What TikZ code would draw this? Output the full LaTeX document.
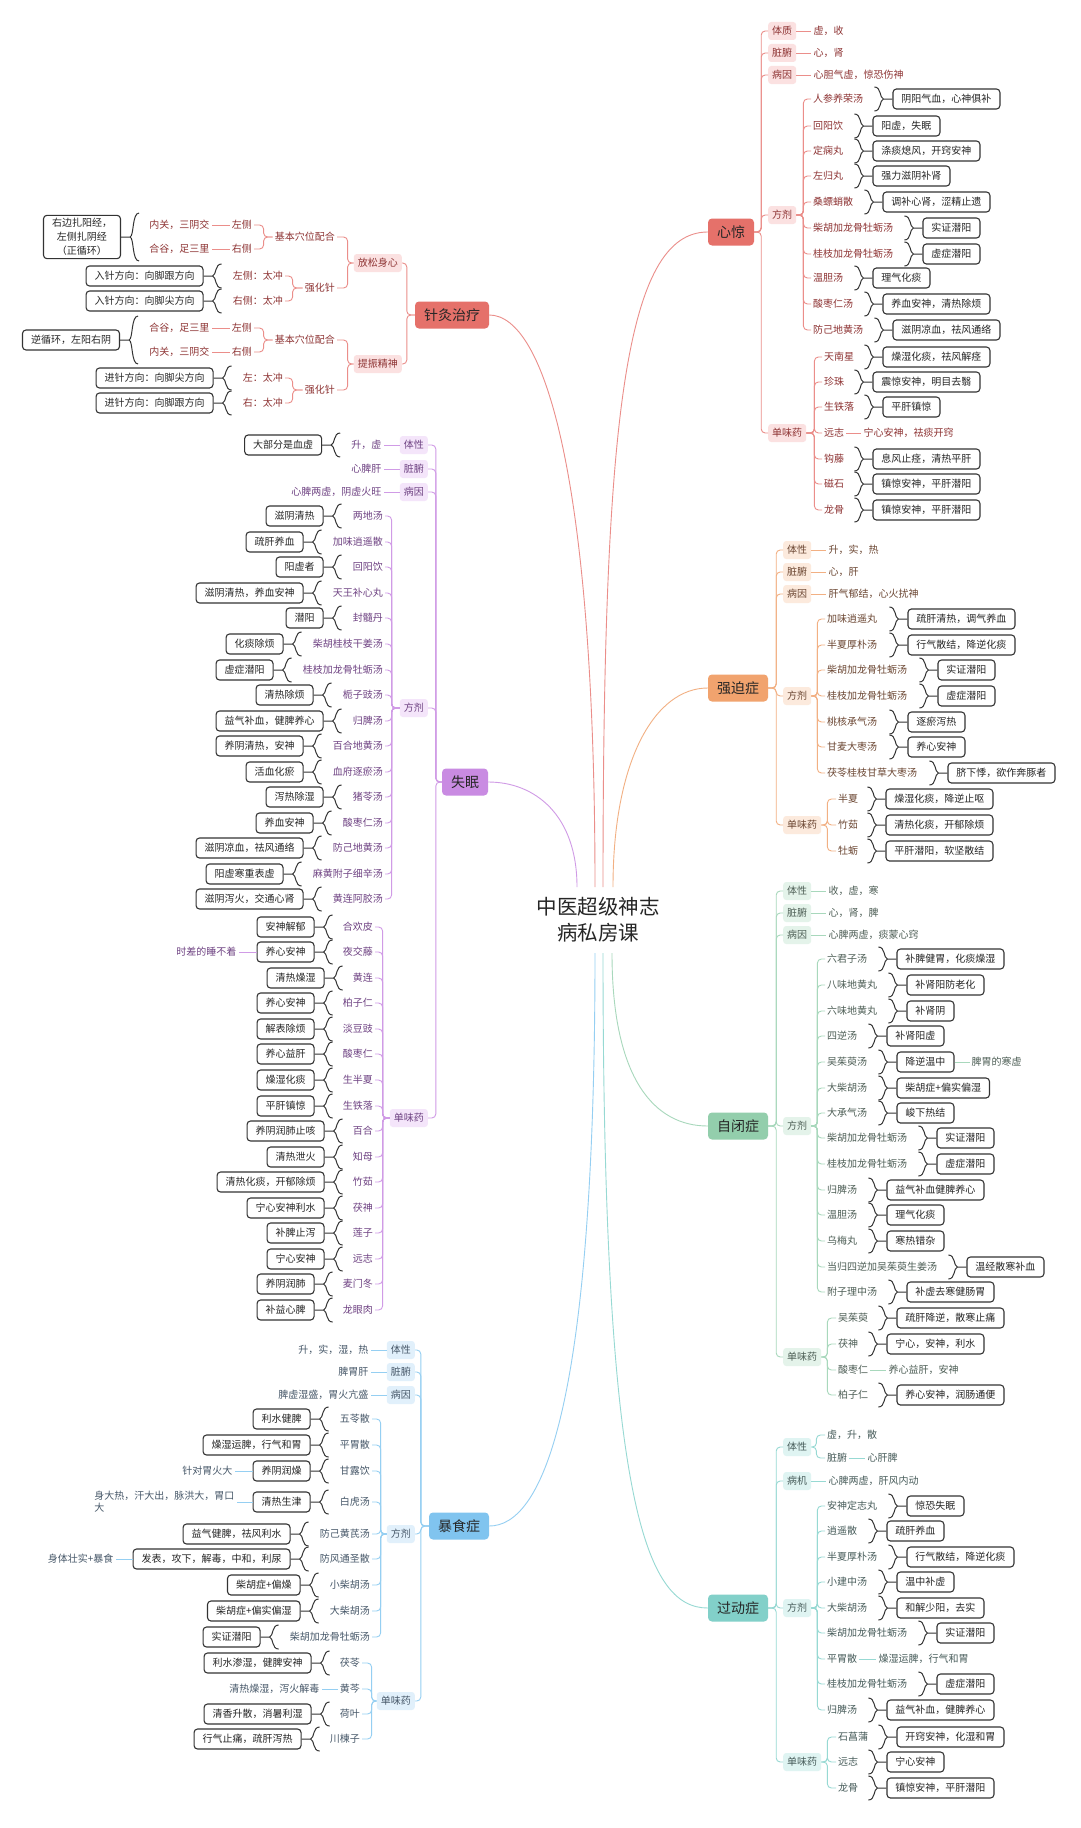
\documentclass[tikz,border=0pt]{standalone}
\usepackage{fontspec}
\setmainfont{Noto Sans CJK SC}
\usepackage{tikz}
\usetikzlibrary{positioning, calc}

\definecolor{cRedFill}{HTML}{E5716A}
\definecolor{cRedCat}{HTML}{FBE1E1}
\definecolor{cRedText}{HTML}{8E3434}
\definecolor{cRedLine}{HTML}{EB8E8A}
\definecolor{cPuFill}{HTML}{C98BE2}
\definecolor{cPuCat}{HTML}{F4E5FA}
\definecolor{cPuText}{HTML}{6F4383}
\definecolor{cPuLine}{HTML}{D09BE6}
\definecolor{cOrFill}{HTML}{F1A36E}
\definecolor{cOrCat}{HTML}{FCEADD}
\definecolor{cOrText}{HTML}{6B4632}
\definecolor{cOrLine}{HTML}{F2B083}
\definecolor{cGrFill}{HTML}{93CEAC}
\definecolor{cGrCat}{HTML}{E4F3EA}
\definecolor{cGrText}{HTML}{4D5E55}
\definecolor{cGrLine}{HTML}{A8D8BC}
\definecolor{cTlFill}{HTML}{82D0C9}
\definecolor{cTlCat}{HTML}{DFF4F2}
\definecolor{cTlText}{HTML}{475C5A}
\definecolor{cTlLine}{HTML}{97D9D3}
\definecolor{cBlFill}{HTML}{80C4EF}
\definecolor{cBlCat}{HTML}{E1F0FB}
\definecolor{cBlText}{HTML}{475869}
\definecolor{cBlLine}{HTML}{95CFF2}

\tikzset{
  lf/.style={inner sep=2pt, font=\fontsize{10}{12}\selectfont},
  cat/.style={rounded corners=3pt, minimum height=18pt, inner xsep=4pt, inner ysep=1pt, font=\fontsize{10}{12}\selectfont},
  bx/.style={draw=black!80, line width=1.1pt, rounded corners=3.5pt, fill=white, minimum height=20pt, inner xsep=8.5pt, inner ysep=1pt, font=\fontsize{10}{12}\selectfont, text=black!85},
  topic/.style={rounded corners=4pt, minimum height=27pt, inner xsep=9pt, font=\fontsize{14}{16}\selectfont, text=black!85},
  brc/.style={draw=black!80, line width=1pt},
  rbr/.style={to path={($(\tikztotarget.west)+(-9,0)$) -- (\tikztotarget.west)
      ($(\tikztotarget.west)+(-9,0)$) .. controls +(-4,1) and +(7,0) .. ($(\tikztotarget.west)+(-18,#1)$)
      ($(\tikztotarget.west)+(-9,0)$) .. controls +(-4,-1) and +(7,0) .. ($(\tikztotarget.west)+(-18,-#1)$)}},
  rbr/.default=12,
  lbr/.style={to path={($(\tikztotarget.east)+(9,0)$) -- (\tikztotarget.east)
      ($(\tikztotarget.east)+(9,0)$) .. controls +(4,1) and +(-7,0) .. ($(\tikztotarget.east)+(18,#1)$)
      ($(\tikztotarget.east)+(9,0)$) .. controls +(4,-1) and +(-7,0) .. ($(\tikztotarget.east)+(18,-#1)$)}},
  lbr/.default=12,
  redln/.style={draw=cRedLine, line width=0.9pt, rounded corners=4pt},
  redlf/.style={lf, text=cRedText},
  redcat/.style={cat, fill=cRedCat, text=cRedText},
  puln/.style={draw=cPuLine, line width=0.9pt, rounded corners=4pt},
  pulf/.style={lf, text=cPuText},
  pucat/.style={cat, fill=cPuCat, text=cPuText},
  orln/.style={draw=cOrLine, line width=0.9pt, rounded corners=4pt},
  orlf/.style={lf, text=cOrText},
  orcat/.style={cat, fill=cOrCat, text=cOrText},
  grln/.style={draw=cGrLine, line width=0.9pt, rounded corners=4pt},
  grlf/.style={lf, text=cGrText},
  grcat/.style={cat, fill=cGrCat, text=cGrText},
  tlln/.style={draw=cTlLine, line width=0.9pt, rounded corners=4pt},
  tllf/.style={lf, text=cTlText},
  tlcat/.style={cat, fill=cTlCat, text=cTlText},
  blln/.style={draw=cBlLine, line width=0.9pt, rounded corners=4pt},
  bllf/.style={lf, text=cBlText},
  blcat/.style={cat, fill=cBlCat, text=cBlText},
}

\begin{document}
\begin{tikzpicture}[x=1pt, y=-1pt]
\fill[white] (0,0) rectangle (1080,1828);
\useasboundingbox (0,0) rectangle (1080,1828);

% title
\node[font=\fontsize{20.5}{26}\selectfont, align=center, text=black!85] (tt) at (598,920) {中医超级神志\\病私房课};
\coordinate (ttA) at (577,887);
\coordinate (ttB) at (595,887);
\coordinate (ttC) at (603,887);
\coordinate (ttD) at (613,887);
\coordinate (ttE) at (595,953);
\coordinate (ttF) at (603,953);
\coordinate (ttG) at (612,953);

% ---- 心惊 ----
\node[topic, fill=cRedFill] (xj) at (731,232) {心惊};
\foreach \n/\y/\t in {a/31/体质, b/53/脏腑, c/75/病因, d/215/方剂, e/433/单味药}{
  \node[redcat, anchor=west] (xj\n) at (768,\y) {\t};
  \draw[redln] (xj.east) -- ++(7,0) |- (xj\n.west);
}
\foreach \n/\t in {a/虚，收, b/心，肾, c/心胆气虚，惊恐伤神}{
  \node[redlf, right=15pt of xj\n] (xj\n1) {\t};
  \draw[redln] (xj\n) -- (xj\n1);
}
\foreach \y/\t/\b [count=\i] in {99/人参养荣汤/阴阳气血，心神俱补, 126/回阳饮/阳虚，失眠,
    151/定痫丸/涤痰熄风，开窍安神, 176/左归丸/强力滋阴补肾, 202/桑螵蛸散/调补心肾，涩精止遗,
    228/柴胡加龙骨牡蛎汤/实证潜阳, 254/桂枝加龙骨牡蛎汤/虚症潜阳, 278/温胆汤/理气化痰,
    304/酸枣仁汤/养血安神，清热除烦, 330/防己地黄汤/滋阴凉血，祛风通络}{
  \node[redlf, anchor=west] (xjd\i) at (811,\y) {\t};
  \node[bx, right=27pt of xjd\i] (xjdb\i) {\b};
  \draw[redln] (xjd.east) -- ++(7,0) |- (xjd\i.west);
  \draw[brc] (xjd\i) to[rbr] (xjdb\i);
}
\foreach \n/\y/\t/\b in {1/357/天南星/燥湿化痰，祛风解痉, 2/382/珍珠/震惊安神，明目去翳,
    3/407/生铁落/平肝镇惊, 5/459/钩藤/息风止痉，清热平肝, 6/484/磁石/镇惊安神，平肝潜阳,
    7/510/龙骨/镇惊安神，平肝潜阳}{
  \node[redlf, anchor=west] (xje\n) at (822,\y) {\t};
  \node[bx, right=26pt of xje\n] (xjeb\n) {\b};
  \draw[redln] (xje.east) -- ++(8,0) |- (xje\n.west);
  \draw[brc] (xje\n) to[rbr] (xjeb\n);
}
\node[redlf, anchor=west] (xje4) at (822,433) {远志};
\node[redlf, right=15pt of xje4] (xje4t) {宁心安神，祛痰开窍};
\draw[redln] (xje.east) -- ++(8,0) |- (xje4.west);
\draw[redln] (xje4) -- (xje4t);
\draw[redln] (ttC) .. controls (603,420) and (625,232) .. (xj.west);

% ---- 针灸治疗 ----
\node[topic, fill=cRedFill] (zj) at (452,315) {针灸治疗};
\foreach \n/\y/\t in {a/263/放松身心, b/364/提振精神}{
  \node[redcat, anchor=east] (zj\n) at (402,\y) {\t};
  \draw[redln] (zj.west) -- ++(-8,0) |- (zj\n.east);
}
\foreach \p/\n/\y/\t in {a/a1/237/基本穴位配合, a/a2/288/强化针, b/b1/340/基本穴位配合, b/b2/390/强化针}{
  \node[redlf, anchor=east] (zj\n) at (337,\y) {\t};
  \draw[redln] (zj\p.west) -- ++(-6,0) |- (zj\n.east);
}
\foreach \p/\n/\y/\s/\t in {a1/a11/225/左侧/内关，三阴交, a1/a12/249/右侧/合谷，足三里,
    b1/b11/328/左侧/合谷，足三里, b1/b12/352/右侧/内关，三阴交}{
  \node[redlf, anchor=east] (zj\n) at (254,\y) {\s};
  \node[redlf, left=18pt of zj\n] (zj\n-t) {\t};
  \draw[redln] (zj\p.west) -- ++(-9,0) |- (zj\n.east);
  \draw[redln] (zj\n) -- (zj\n-t);
}
\node[bx, align=center, font=\fontsize{10}{14}\selectfont, inner ysep=3pt] (zja1x) at (82,237) {右边扎阳经，\\左侧扎阴经\\（正循环）};
\node[bx] (zjb1x) at (71,340) {逆循环，左阳右阴};
\draw[brc] (zja11-t) to[lbr=24] (zja1x);
\draw[brc] (zjb11-t) to[lbr=24] (zjb1x);
\foreach \p/\n/\y/\s/\b in {a2/a21/276/左侧：太冲/入针方向：向脚跟方向, a2/a22/301/右侧：太冲/入针方向：向脚尖方向,
    b2/b21/378/左：太冲/进针方向：向脚尖方向, b2/b22/403/右：太冲/进针方向：向脚跟方向}{
  \node[redlf, anchor=east] (zj\n) at (285,\y) {\s};
  \node[bx, left=27pt of zj\n] (zj\n-b) {\b};
  \draw[redln] (zj\p.west) -- ++(-10,0) |- (zj\n.east);
  \draw[brc] (zj\n) to[lbr] (zj\n-b);
}
\draw[redln] (ttB) .. controls (595,480) and (545,315) .. (zj.east);

% ---- 失眠 ----
\node[topic, fill=cPuFill] (sm) at (465,782) {失眠};
\foreach \n/\y/\t in {a/445/体性, b/469/脏腑, c/492/病因, d/708/方剂, e/1118/单味药}{
  \node[pucat, anchor=east] (sm\n) at (428,\y) {\t};
  \draw[puln] (sm.west) -- ++(-6,0) |- (sm\n.east);
}
\foreach \n/\t in {a/升，虚, b/心脾肝, c/心脾两虚，阴虚火旺}{
  \node[pulf, left=16pt of sm\n] (sm\n1) {\t};
  \draw[puln] (sm\n) -- (sm\n1);
}
\node[bx, left=27pt of sma1] (sma2) {大部分是血虚};
\draw[brc] (sma1) to[lbr] (sma2);
\foreach \y/\t/\b [count=\i] in {516/两地汤/滋阴清热, 542/加味逍遥散/疏肝养血, 567/回阳饮/阳虚者,
    593/天王补心丸/滋阴清热，养血安神, 618/封髓丹/潜阳, 644/柴胡桂枝干姜汤/化痰除烦,
    670/桂枝加龙骨牡蛎汤/虚症潜阳, 695/栀子豉汤/清热除烦, 721/归脾汤/益气补血，健脾养心,
    746/百合地黄汤/养阴清热，安神, 772/血府逐瘀汤/活血化瘀, 797/猪苓汤/泻热除湿,
    823/酸枣仁汤/养血安神, 848/防己地黄汤/滋阴凉血，祛风通络, 874/麻黄附子细辛汤/阳虚寒重表虚,
    899/黄连阿胶汤/滋阴泻火，交通心肾}{
  \node[pulf, anchor=east] (smd\i) at (385,\y) {\t};
  \node[bx, left=27pt of smd\i] (smdb\i) {\b};
  \draw[puln] (smd.west) -- ++(-8,0) |- (smd\i.east);
  \draw[brc] (smd\i) to[lbr] (smdb\i);
}
\foreach \y/\t/\b [count=\i] in {927/合欢皮/安神解郁, 952/夜交藤/养心安神, 978/黄连/清热燥湿,
    1003/柏子仁/养心安神, 1029/淡豆豉/解表除烦, 1054/酸枣仁/养心益肝, 1080/生半夏/燥湿化痰,
    1106/生铁落/平肝镇惊, 1131/百合/养阴润肺止咳, 1157/知母/清热泄火, 1182/竹茹/清热化痰，开郁除烦,
    1208/茯神/宁心安神利水, 1233/莲子/补脾止泻, 1259/远志/宁心安神, 1284/麦门冬/养阴润肺,
    1310/龙眼肉/补益心脾}{
  \node[pulf, anchor=east] (sme\i) at (375,\y) {\t};
  \node[bx, left=26pt of sme\i] (smeb\i) {\b};
  \draw[puln] (sme.west) -- ++(-7,0) |- (sme\i.east);
  \draw[brc] (sme\i) to[lbr] (smeb\i);
}
\node[pulf, left=18pt of smeb2] (smen) {时差的睡不着};
\draw[puln] (smeb2) -- (smen);
\draw[puln] (ttA) .. controls (577,815) and (535,782) .. (sm.east);

% ---- 强迫症 ----
\node[topic, fill=cOrFill] (qp) at (738,688) {强迫症};
\foreach \n/\y/\t in {a/550/体性, b/572/脏腑, c/594/病因, d/696/方剂, e/825/单味药}{
  \node[orcat, anchor=west] (qp\n) at (783,\y) {\t};
  \draw[orln] (qp.east) -- ++(8,0) |- (qp\n.west);
}
\foreach \n/\t in {a/升，实，热, b/心，肝, c/肝气郁结，心火扰神}{
  \node[orlf, right=15pt of qp\n] (qp\n1) {\t};
  \draw[orln] (qp\n) -- (qp\n1);
}
\foreach \y/\t/\b [count=\i] in {619/加味逍遥丸/疏肝清热，调气养血, 645/半夏厚朴汤/行气散结，降逆化痰,
    670/柴胡加龙骨牡蛎汤/实证潜阳, 696/桂枝加龙骨牡蛎汤/虚症潜阳, 722/桃核承气汤/逐瘀泻热,
    747/甘麦大枣汤/养心安神, 773/茯苓桂枝甘草大枣汤/脐下悸，欲作奔豚者}{
  \node[orlf, anchor=west] (qpd\i) at (825,\y) {\t};
  \node[bx, right=28pt of qpd\i] (qpdb\i) {\b};
  \draw[orln] (qpd.east) -- ++(6,0) |- (qpd\i.west);
  \draw[brc] (qpd\i) to[rbr] (qpdb\i);
}
\foreach \y/\t/\b [count=\i] in {799/半夏/燥湿化痰，降逆止呕, 825/竹茹/清热化痰，开郁除烦, 851/牡蛎/平肝潜阳，软坚散结}{
  \node[orlf, anchor=west] (qpe\i) at (836,\y) {\t};
  \node[bx, right=25pt of qpe\i] (qpeb\i) {\b};
  \draw[orln] (qpe.east) -- ++(6,0) |- (qpe\i.west);
  \draw[brc] (qpe\i) to[rbr] (qpeb\i);
}
\draw[orln] (ttD) .. controls (613,760) and (655,688) .. (qp.west);

% ---- 自闭症 ----
\node[topic, fill=cGrFill] (zb) at (738,1126) {自闭症};
\foreach \n/\y/\t in {a/891/体性, b/913/脏腑, c/935/病因, d/1126/方剂, e/1357/单味药}{
  \node[grcat, anchor=west] (zb\n) at (783,\y) {\t};
  \draw[grln] (zb.east) -- ++(8,0) |- (zb\n.west);
}
\foreach \n/\t in {a/收，虚，寒, b/心，肾，脾, c/心脾两虚，痰蒙心窍}{
  \node[grlf, right=15pt of zb\n] (zb\n1) {\t};
  \draw[grln] (zb\n) -- (zb\n1);
}
\foreach \y/\t/\b [count=\i] in {959/六君子汤/补脾健胃，化痰燥湿, 985/八味地黄丸/补肾阳防老化,
    1011/六味地黄丸/补肾阴, 1036/四逆汤/补肾阳虚, 1062/吴茱萸汤/降逆温中, 1088/大柴胡汤/柴胡症+偏实偏湿,
    1113/大承气汤/峻下热结, 1138/柴胡加龙骨牡蛎汤/实证潜阳, 1164/桂枝加龙骨牡蛎汤/虚症潜阳,
    1190/归脾汤/益气补血健脾养心, 1215/温胆汤/理气化痰, 1241/乌梅丸/寒热错杂,
    1267/当归四逆加吴茱萸生姜汤/温经散寒补血, 1292/附子理中汤/补虚去寒健肠胃}{
  \node[grlf, anchor=west] (zbd\i) at (825,\y) {\t};
  \node[bx, right=27pt of zbd\i] (zbdb\i) {\b};
  \draw[grln] (zbd.east) -- ++(6,0) |- (zbd\i.west);
  \draw[brc] (zbd\i) to[rbr] (zbdb\i);
}
\node[grlf, right=15pt of zbdb5] (zbdn) {脾胃的寒虚};
\draw[grln] (zbdb5) -- (zbdn);
\foreach \n/\y/\t/\b in {1/1318/吴茱萸/疏肝降逆，散寒止痛, 2/1344/茯神/宁心，安神，利水, 4/1395/柏子仁/养心安神，润肠通便}{
  \node[grlf, anchor=west] (zbe\n) at (836,\y) {\t};
  \node[bx, right=26pt of zbe\n] (zbeb\n) {\b};
  \draw[grln] (zbe.east) -- ++(6,0) |- (zbe\n.west);
  \draw[brc] (zbe\n) to[rbr] (zbeb\n);
}
\node[grlf, anchor=west] (zbe3) at (836,1370) {酸枣仁};
\node[grlf, right=16pt of zbe3] (zbe3t) {养心益肝，安神};
\draw[grln] (zbe.east) -- ++(6,0) |- (zbe3.west);
\draw[grln] (zbe3) -- (zbe3t);
\draw[grln] (ttG) .. controls (612,1080) and (655,1126) .. (zb.west);

% ---- 过动症 ----
\node[topic, fill=cTlFill] (gd) at (738,1608) {过动症};
\foreach \n/\y/\t in {a/1447/体性, b/1481/病机, c/1608/方剂, d/1762/单味药}{
  \node[tlcat, anchor=west] (gd\n) at (783,\y) {\t};
  \draw[tlln] (gd.east) -- ++(8,0) |- (gd\n.west);
}
\node[tllf, anchor=west] (gda1) at (825,1435) {虚，升，散};
\node[tllf, anchor=west] (gda2) at (825,1458) {脏腑};
\node[tllf, right=16pt of gda2] (gda3) {心肝脾};
\draw[tlln] (gda.east) -- ++(5,0) |- (gda1.west);
\draw[tlln] (gda.east) -- ++(5,0) |- (gda2.west);
\draw[tlln] (gda2) -- (gda3);
\node[tllf, right=15pt of gdb] (gdb1) {心脾两虚，肝风内动};
\draw[tlln] (gdb) -- (gdb1);
\foreach \n/\y/\t/\b in {1/1506/安神定志丸/惊恐失眠, 2/1531/逍遥散/疏肝养血, 3/1557/半夏厚朴汤/行气散结，降逆化痰,
    4/1582/小建中汤/温中补虚, 5/1608/大柴胡汤/和解少阳，去实, 6/1633/柴胡加龙骨牡蛎汤/实证潜阳,
    8/1684/桂枝加龙骨牡蛎汤/虚症潜阳, 9/1710/归脾汤/益气补血，健脾养心}{
  \node[tllf, anchor=west] (gdc\n) at (825,\y) {\t};
  \node[bx, right=27pt of gdc\n] (gdcb\n) {\b};
  \draw[tlln] (gdc.east) -- ++(6,0) |- (gdc\n.west);
  \draw[brc] (gdc\n) to[rbr] (gdcb\n);
}
\node[tllf, anchor=west] (gdc7) at (825,1659) {平胃散};
\node[tllf, right=17pt of gdc7] (gdc7t) {燥湿运脾，行气和胃};
\draw[tlln] (gdc.east) -- ++(6,0) |- (gdc7.west);
\draw[tlln] (gdc7) -- (gdc7t);
\foreach \y/\t/\b [count=\i] in {1737/石菖蒲/开窍安神，化湿和胃, 1762/远志/宁心安神, 1788/龙骨/镇惊安神，平肝潜阳}{
  \node[tllf, anchor=west] (gdd\i) at (836,\y) {\t};
  \node[bx, right=26pt of gdd\i] (gddb\i) {\b};
  \draw[tlln] (gdd.east) -- ++(6,0) |- (gdd\i.west);
  \draw[brc] (gdd\i) to[rbr] (gddb\i);
}
\draw[tlln] (ttF) .. controls (603,1500) and (645,1608) .. (gd.west);

% ---- 暴食症 ----
\node[topic, fill=cBlFill] (bs) at (459,1526) {暴食症};
\foreach \n/\y/\t in {a/1350/体性, b/1372/脏腑, c/1395/病因, d/1534/方剂, e/1701/单味药}{
  \node[blcat, anchor=east] (bs\n) at (415,\y) {\t};
  \draw[blln] (bs.west) -- ++(-8,0) |- (bs\n.east);
}
\foreach \n/\t in {a/升，实，湿，热, b/脾胃肝, c/脾虚湿盛，胃火亢盛}{
  \node[bllf, left=16pt of bs\n] (bs\n1) {\t};
  \draw[blln] (bs\n) -- (bs\n1);
}
\foreach \y/\t/\b [count=\i] in {1419/五苓散/利水健脾, 1445/平胃散/燥湿运脾，行气和胃, 1471/甘露饮/养阴润燥,
    1502/白虎汤/清热生津, 1534/防己黄芪汤/益气健脾，祛风利水, 1559/防风通圣散/发表，攻下，解毒，中和，利尿,
    1585/小柴胡汤/柴胡症+偏燥, 1611/大柴胡汤/柴胡症+偏实偏湿, 1637/柴胡加龙骨牡蛎汤/实证潜阳}{
  \node[bllf, anchor=east] (bsd\i) at (372,\y) {\t};
  \node[bx, left=27pt of bsd\i] (bsdb\i) {\b};
  \draw[blln] (bsd.west) -- ++(-6,0) |- (bsd\i.east);
  \draw[brc] (bsd\i) to[lbr] (bsdb\i);
}
\node[bllf, left=18pt of bsdb3] (bsdn3) {针对胃火大};
\node[bllf, left=16pt of bsdb4, align=left] (bsdn4) {身大热，汗大出，脉洪大，胃口\\大};
\node[bllf, left=17pt of bsdb6] (bsdn6) {身体壮实+暴食};
\draw[blln] (bsdb3) -- (bsdn3);
\draw[blln] (bsdb4) -- (bsdn4);
\draw[blln] (bsdb6) -- (bsdn6);
\foreach \n/\y/\t/\b in {1/1663/茯苓/利水渗湿，健脾安神, 3/1714/荷叶/清香升散，消暑利湿, 4/1739/川楝子/行气止痛，疏肝泻热}{
  \node[bllf, anchor=east] (bse\n) at (362,\y) {\t};
  \node[bx, left=26pt of bse\n] (bseb\n) {\b};
  \draw[blln] (bse.west) -- ++(-5,0) |- (bse\n.east);
  \draw[brc] (bse\n) to[lbr] (bseb\n);
}
\node[bllf, anchor=east] (bse2) at (362,1689) {黄芩};
\node[bllf, left=16pt of bse2] (bse2t) {清热燥湿，泻火解毒};
\draw[blln] (bse.west) -- ++(-5,0) |- (bse2.east);
\draw[blln] (bse2) -- (bse2t);
\draw[blln] (ttE) .. controls (595,1420) and (540,1526) .. (bs.east);
\end{tikzpicture}
\end{document}
